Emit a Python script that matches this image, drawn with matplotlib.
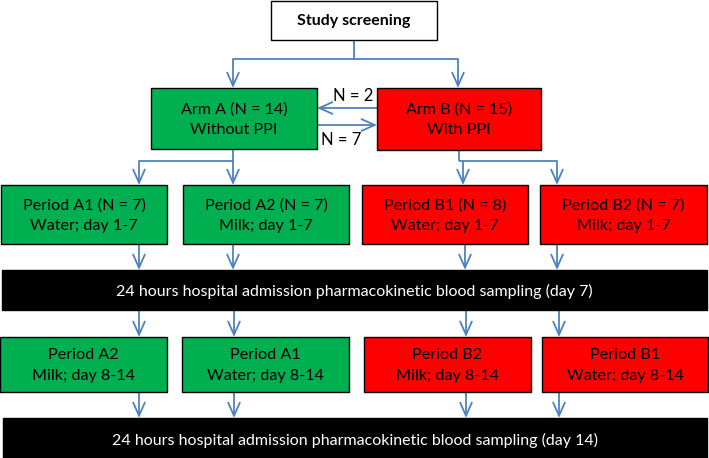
import matplotlib.pyplot as plt
from matplotlib.patches import Rectangle

# flowchart content
top_label = "Study screening"
arm_labels = ["Arm A (N = 14)\nWithout PPI", "Arm B (N = 15)\nWith PPI"]
switch_labels = ["N = 2", "N = 7"]
period1_labels = ["Period A1 (N = 7)\nWater; day 1-7", "Period A2 (N = 7)\nMilk; day 1-7",
                  "Period B1 (N = 8)\nWater; day 1-7", "Period B2 (N = 7)\nMilk; day 1-7"]
period2_labels = ["Period A2\nMilk; day 8-14", "Period A1\nWater; day 8-14",
                  "Period B2\nMilk; day 8-14", "Period B1\nWater; day 8-14"]
sampling_labels = ["24 hours hospital admission pharmacokinetic blood sampling (day 7)",
                   "24 hours hospital admission pharmacokinetic blood sampling (day 14)"]

GREEN = "#00B050"
RED = "#FF0000"
BLUE = "#4F81BD"
FONT = "Lato"

fig = plt.figure(figsize=(7.09, 4.58), dpi=100)
ax = fig.add_axes([0, 0, 1, 1])
ax.set_xlim(0, 709)
ax.set_ylim(458, 0)
ax.axis("off")


def box(x0, y0, x1, y1, fc, text, color="black", size=11.6, weight="normal", lw=1.0):
    ax.add_patch(Rectangle((x0, y0), x1 - x0, y1 - y0, facecolor=fc,
                           edgecolor="black", linewidth=lw, zorder=2))
    ax.text((x0 + x1) / 2, (y0 + y1) / 2 + 1, text, ha="center", va="center",
            color=color, fontsize=size, fontweight=weight, family=FONT,
            linespacing=1.55, zorder=3)


def line(xs, ys):
    ax.plot(xs, ys, color=BLUE, lw=1.3, solid_capstyle="butt", zorder=1)


def arrow(x0, y0, x1, y1):
    ax.annotate("", xy=(x1, y1), xytext=(x0, y0),
                arrowprops=dict(arrowstyle="->,head_length=0.95,head_width=0.42",
                                color=BLUE, lw=1.3, shrinkA=0, shrinkB=0),
                zorder=1)


# top
box(271, 1, 437, 40, "white", top_label, weight="bold", size=11.5)
line([354, 354], [40, 59])
line([233, 458], [59, 59])
arrow(233, 59, 233, 88)
arrow(458, 59, 458, 88)

# arms
box(151, 88, 317, 149, GREEN, arm_labels[0])
box(377, 88, 541, 150, RED, arm_labels[1])
arrow(377, 108, 317, 108)
arrow(317, 125, 377, 125)
ax.text(353, 96, switch_labels[0], ha="center", va="center", fontsize=12, family=FONT)
ax.text(341, 140, switch_labels[1], ha="center", va="center", fontsize=12, family=FONT)

# branches to period row 1
line([233, 233], [149, 161])
line([139, 233], [161, 161])
arrow(139, 161, 139, 185)
arrow(233, 161, 233, 185)
line([459, 459], [150, 161])
line([459, 557], [161, 161])
arrow(463, 161, 463, 185)
arrow(557, 161, 557, 185)

row1 = [(1, 167, GREEN), (183, 349, GREEN), (362, 528, RED), (540, 707, RED)]
for (x0, x1, fc), lab in zip(row1, period1_labels):
    box(x0, 185, x1, 244, fc, lab)

for x in [139, 233, 465, 557]:
    arrow(x, 244, x, 270)

box(2, 270, 707, 310, "black", sampling_labels[0], color="white", size=11.5)

for x in [139, 234, 466, 559]:
    arrow(x, 310, x, 337)

row2 = [(0, 167, GREEN), (182, 349, GREEN), (364, 531, RED), (542, 708, RED)]
for (x0, x1, fc), lab in zip(row2, period2_labels):
    box(x0, 337, x1, 392, fc, lab)

for x in [139, 234, 466, 559]:
    arrow(x, 392, x, 418)

box(3, 418, 707, 460, "black", sampling_labels[1], color="white", size=11.5)

fig.savefig("out.png", dpi=100)
